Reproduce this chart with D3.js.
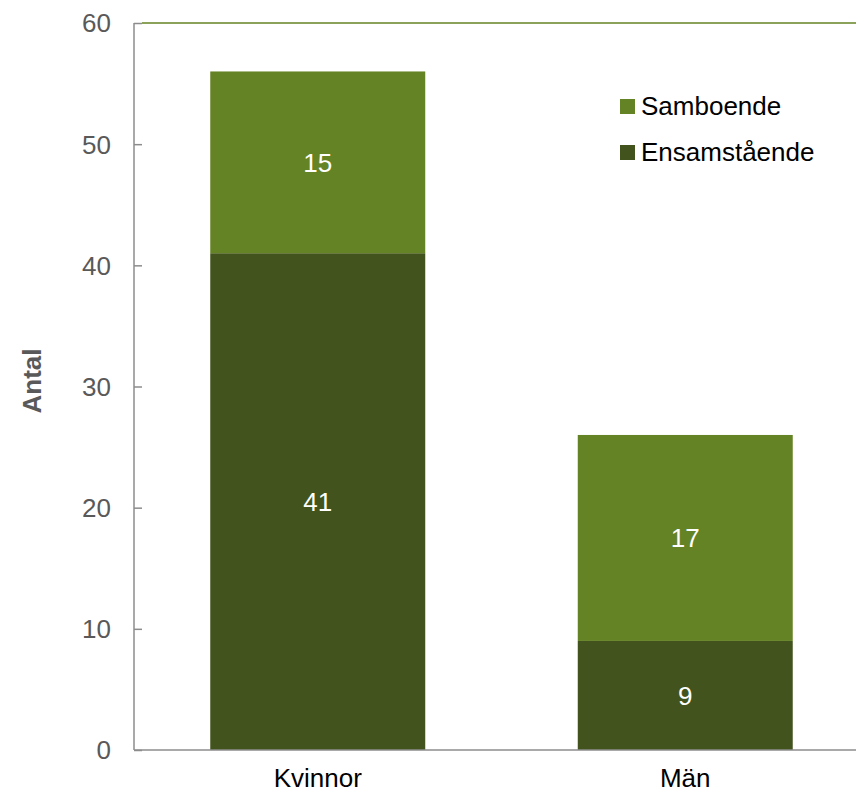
<!DOCTYPE html>
<html>
<head>
<meta charset="utf-8">
<script src="https://cdn.jsdelivr.net/npm/d3@7"></script>
<style>
  html, body { margin: 0; padding: 0; background: #fff; }
  svg { display: block; font-family: "Liberation Sans", Arial, sans-serif; }
</style>
</head>
<body>
<svg id="chart" width="856" height="794"></svg>
<script>
// Antal per kön, uppdelat på boendeform
const categories = ["Kvinnor", "Män"];
const ensamstaende = [41, 9];
const samboende = [15, 17];
const seriesNames = ["Ensamstående", "Samboende"];
const yTicks = [0, 10, 20, 30, 40, 50, 60];

const colors = { "Ensamstående": "#42531d", "Samboende": "#648324" };
const fontSize = 26;

const svg = d3.select("#chart");
const W = 856;
const plotLeft = 134, plotTop = 23, plotBottom = 750, plotRight = 869;

const rows = categories.map((c, i) => ({
  cat: c,
  "Ensamstående": ensamstaende[i],
  "Samboende": samboende[i]
}));
const stacked = d3.stack().keys(seriesNames)(rows);

const x = d3.scaleBand()
  .domain(categories)
  .range([plotLeft, plotRight])
  .paddingInner(0.415)
  .paddingOuter(0.2075);

const y = d3.scaleLinear().domain([0, 60]).range([plotBottom, plotTop]);

// top gridline
svg.append("line")
  .attr("x1", plotLeft + 8).attr("x2", W)
  .attr("y1", y(60)).attr("y2", y(60))
  .attr("stroke", "#648324").attr("stroke-width", 1.5);

// bars
svg.append("g").selectAll("g")
  .data(stacked)
  .join("g")
  .attr("fill", d => colors[d.key])
  .selectAll("rect")
  .data(d => d.map(p => ({ p, key: d.key })))
  .join("rect")
  .attr("x", d => x(d.p.data.cat))
  .attr("width", x.bandwidth())
  .attr("y", d => y(d.p[1]))
  .attr("height", d => y(d.p[0]) - y(d.p[1]));

// value labels
svg.append("g").selectAll("text")
  .data(stacked.flatMap(s => s.map(p => ({ p, key: s.key }))))
  .join("text")
  .attr("x", d => x(d.p.data.cat) + x.bandwidth() / 2)
  .attr("y", d => (y(d.p[0]) + y(d.p[1])) / 2)
  .attr("dy", "0.36em")
  .attr("text-anchor", "middle")
  .attr("fill", "#fff")
  .attr("font-size", fontSize)
  .text(d => d.p.data[d.key]);

// y axis
const yAxis = svg.append("g")
  .attr("transform", `translate(${plotLeft},0)`)
  .call(d3.axisRight(y).tickValues(yTicks).tickSize(8).tickFormat(""));
yAxis.select(".domain").attr("stroke", "#8c8c8c").attr("stroke-width", 1.5)
  .attr("d", `M0,${plotTop}V${plotBottom}`);
yAxis.selectAll(".tick line").attr("stroke", "#8c8c8c").attr("stroke-width", 1.5);

svg.append("g").selectAll("text")
  .data(yTicks)
  .join("text")
  .attr("x", 111)
  .attr("y", d => y(d))
  .attr("dy", "0.36em")
  .attr("text-anchor", "end")
  .attr("fill", "#595959")
  .attr("font-size", fontSize)
  .text(d => d);

// x axis baseline
svg.append("line")
  .attr("x1", plotLeft).attr("x2", W)
  .attr("y1", plotBottom).attr("y2", plotBottom)
  .attr("stroke", "#8c8c8c").attr("stroke-width", 1.5);

svg.append("g").selectAll("text")
  .data(categories)
  .join("text")
  .attr("x", d => x(d) + x.bandwidth() / 2)
  .attr("y", 787)
  .attr("text-anchor", "middle")
  .attr("fill", "#000")
  .attr("font-size", fontSize)
  .text(d => d);

// y axis title
svg.append("text")
  .attr("transform", `translate(41,381) rotate(-90)`)
  .attr("text-anchor", "middle")
  .attr("fill", "#595959")
  .attr("font-size", fontSize)
  .attr("font-weight", "bold")
  .text("Antal");

// legend
const legendItems = ["Samboende", "Ensamstående"];
const legend = svg.append("g");
legendItems.forEach((name, i) => {
  const ly = 106 + i * 46;
  legend.append("rect")
    .attr("x", 620).attr("y", ly - 7)
    .attr("width", 15).attr("height", 15)
    .attr("fill", colors[name]);
  legend.append("text")
    .attr("x", 641).attr("y", ly)
    .attr("dy", "0.36em")
    .attr("fill", "#000")
    .attr("font-size", fontSize)
    .text(name);
});
</script>
</body>
</html>
